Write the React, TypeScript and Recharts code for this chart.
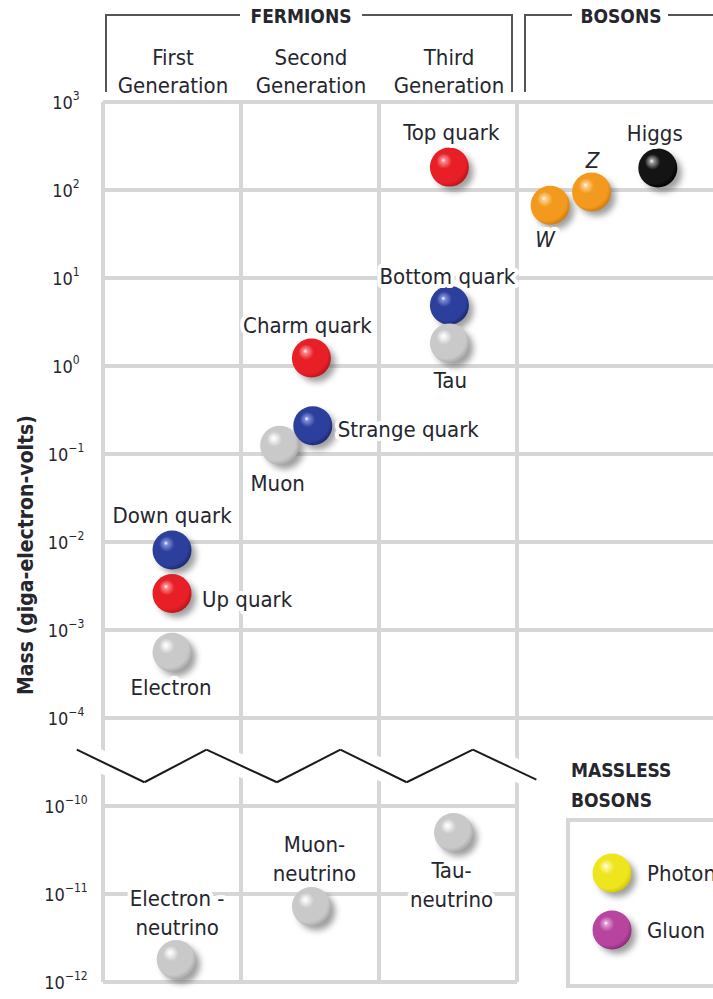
import React from 'react';
import { ComposedChart, Scatter, XAxis, YAxis, ReferenceLine } from 'recharts';

// masses in GeV (log scale)
const particleNames = [
  'Electron', 'Up quark', 'Down quark', 'Electron -\nneutrino',
  'Muon', 'Strange quark', 'Charm quark', 'Muon-\nneutrino',
  'Bottom quark', 'Tau', 'Top quark', 'Tau-\nneutrino',
  'W', 'Z', 'Higgs',
];
const particleMass = [
  0.00056, 0.0026, 0.0081, 1.8e-12,
  0.126, 0.21, 1.23, 7.2e-12,
  4.9, 1.82, 182, 5e-11,
  67, 95, 178,
];
// horizontal place: generation column (0..3) plus where the ball sits in it
const particleColumn = [
  0.5, 0.5, 0.5, 0.53,
  1.28, 1.52, 1.51, 1.51,
  2.51, 2.51, 2.51, 2.54,
  3.24, 3.54, 4.02,
];
const particleKind = [
  'lepton', 'up', 'down', 'lepton',
  'lepton', 'down', 'up', 'lepton',
  'down', 'lepton', 'up', 'lepton',
  'wz', 'wz', 'higgs',
];

const masslessNames = ['Photon', 'Gluon'];
const masslessKind = ['photon', 'gluon'];

const tickExponents = [3, 2, 1, 0, -1, -2, -3, -4, -10, -11, -12];
const generationTitles = [['First', 'Generation'], ['Second', 'Generation'], ['Third', 'Generation']];

// axis break: decades between 1e-4 and 1e-10 are cut to one step
const BREAK_TOP = -4;
const BREAK_BOTTOM = -10;
const expToAxis = (e: number) => (e >= BREAK_TOP ? e : e - BREAK_BOTTOM + BREAK_TOP - 1);
const massToAxis = (m: number) => expToAxis(Math.log10(m));

const X_MAX = 4.42;
const tickPositions = tickExponents.map(expToAxis);

// zigzag break marker, in axis units
const breakZigzag = [
  { x: -0.19, y: -4.36 }, { x: 0.3, y: -4.73 }, { x: 0.75, y: -4.36 }, { x: 1.26, y: -4.73 },
  { x: 1.72, y: -4.36 }, { x: 2.2, y: -4.73 }, { x: 2.68, y: -4.36 }, { x: 3.14, y: -4.7 },
];

const particles = particleNames.map((name, i) => ({
  name,
  x: particleColumn[i],
  y: massToAxis(particleMass[i]),
  kind: particleKind[i],
}));

const FONT = "'DejaVu Sans Condensed', 'DejaVu Sans', sans-serif";
const TEXT = '#26262e';
const GRID = '#d6d6d6';

const ballColors: Record<string, [string, string, string]> = {
  up: ['#f7888b', '#e91f27', '#b9141b'],
  down: ['#7c8ed6', '#2d3f9d', '#1c2a6e'],
  lepton: ['#f4f4f4', '#c9c9c9', '#a9a9a9'],
  wz: ['#fbd08a', '#f39a1e', '#d07a0e'],
  higgs: ['#9a9a9a', '#141414', '#000000'],
  photon: ['#fbf69a', '#efe51d', '#cfc50a'],
  gluon: ['#e29ad2', '#b7449f', '#8a2c77'],
};

const labelPlace: Record<string, { dx: number; dy: number; anchor?: string; italic?: boolean }> = {
  'Electron': { dx: -1, dy: 35 },
  'Up quark': { dx: 30, dy: 6, anchor: 'start' },
  'Down quark': { dx: 0, dy: -35 },
  'Electron -\nneutrino': { dx: 1, dy: -62 },
  'Muon': { dx: -2, dy: 38 },
  'Strange quark': { dx: 25, dy: 3, anchor: 'start' },
  'Charm quark': { dx: -4, dy: -33 },
  'Muon-\nneutrino': { dx: 3, dy: -63 },
  'Bottom quark': { dx: -2, dy: -29 },
  'Tau': { dx: 1, dy: 37 },
  'Top quark': { dx: 2, dy: -35 },
  'Tau-\nneutrino': { dx: -2, dy: 38 },
  'W': { dx: -5, dy: 34, italic: true },
  'Z': { dx: 1, dy: -32, italic: true },
  'Higgs': { dx: -3, dy: -35 },
};

const Ball = ({ cx, cy, kind }: { cx: number; cy: number; kind: string }) => (
  <g>
    <circle cx={cx + 5} cy={cy + 5} r={19} fill="#505050" opacity={0.55} filter="url(#ballBlur)" />
    <circle cx={cx} cy={cy} r={19.5} fill={`url(#ball-${kind})`} />
  </g>
);

const ParticleShape = (props: any) => {
  const { cx, cy, payload } = props;
  const place = labelPlace[payload.name] || { dx: 0, dy: -35 };
  const lines = payload.name.split('\n');
  const tx = cx + place.dx;
  return (
    <g>
      <Ball cx={cx} cy={cy} kind={payload.kind} />
      <text
        x={tx}
        y={cy + place.dy}
        textAnchor={place.anchor || 'middle'}
        dominantBaseline="central"
        fontFamily={FONT}
        fontSize={22}
        fontStyle={place.italic ? 'italic' : 'normal'}
        fill={TEXT}
        stroke="#fff"
        strokeWidth={8}
        strokeLinejoin="round"
        paintOrder="stroke"
      >
        {lines.map((ln: string, i: number) => (
          <tspan key={i} x={tx} dy={i === 0 ? 0 : 29}>{ln}</tspan>
        ))}
      </text>
    </g>
  );
};

const MassTick = (props: any) => {
  const { y, payload } = props;
  const idx = tickPositions.indexOf(payload.value);
  const exp = tickExponents[idx];
  const expText = exp < 0 ? `\u2212${-exp}` : `${exp}`;
  return (
    <text x={66} y={y + 7} textAnchor="middle" fontFamily={FONT} fontSize={18} fill={TEXT}>
      10
      <tspan dy={-9} fontSize={12}>{expText}</tspan>
    </text>
  );
};

const colCenter = (i: number) => 103 + (i + 0.5) * 138;

export default function App() {
  return (
    <div style={{ position: 'absolute', left: 0, top: 0, width: 713, height: 999, background: '#fff', overflow: 'hidden' }}>
      <svg width={0} height={0} style={{ position: 'absolute' }}>
        <defs>
          <filter id="ballBlur" x="-50%" y="-50%" width="200%" height="200%">
            <feGaussianBlur stdDeviation={3} />
          </filter>
          {Object.keys(ballColors).map((k) => (
            <radialGradient key={k} id={`ball-${k}`} cx="42%" cy="40%" r="62%" fx="34%" fy="32%">
              <stop offset="0%" stopColor="#ffffff" />
              <stop offset="9%" stopColor={ballColors[k][0]} />
              <stop offset="32%" stopColor={ballColors[k][1]} />
              <stop offset="82%" stopColor={ballColors[k][1]} />
              <stop offset="100%" stopColor={ballColors[k][2]} />
            </radialGradient>
          ))}
        </defs>
      </svg>

      <ComposedChart width={713} height={999} margin={{ top: 102, right: 0, bottom: 17, left: 0 }}>
        <XAxis type="number" dataKey="x" domain={[0, X_MAX]} hide />
        <YAxis
          type="number"
          dataKey="y"
          domain={[-7, 3]}
          ticks={tickPositions}
          interval={0}
          width={103}
          axisLine={false}
          tickLine={false}
          tick={(p: any) => <MassTick {...p} />}
        />
        {tickPositions.map((t) => (
          <ReferenceLine
            key={`h${t}`}
            segment={[{ x: 0, y: t }, { x: t >= BREAK_TOP ? X_MAX : 3, y: t }]}
            stroke={GRID}
            strokeWidth={4}
            ifOverflow="visible"
          />
        ))}
        {[0, 1, 2, 3].map((c) => (
          <ReferenceLine
            key={`v${c}`}
            segment={[{ x: c, y: -7 }, { x: c, y: 3 }]}
            stroke={GRID}
            strokeWidth={4}
            ifOverflow="visible"
          />
        ))}
        {breakZigzag.slice(1).map((p, i) => (
          <ReferenceLine
            key={`bw${i}`}
            segment={[breakZigzag[i], p]}
            stroke="#fff"
            strokeWidth={22}
            ifOverflow="visible"
          />
        ))}
        {breakZigzag.slice(1).map((p, i) => (
          <ReferenceLine
            key={`bk${i}`}
            segment={[breakZigzag[i], p]}
            stroke="#1a1a1a"
            strokeWidth={2}
            ifOverflow="visible"
          />
        ))}
        <Scatter data={particles} shape={ParticleShape} isAnimationActive={false} />
      </ComposedChart>

      <svg width={713} height={999} style={{ position: 'absolute', left: 0, top: 0, pointerEvents: 'none' }}>
        {/* FERMIONS bracket */}
        <g stroke="#555" strokeWidth={2} fill="none">
          <polyline points="106,92 106,15 240,15" />
          <polyline points="362,15 512,15 512,92" />
          <polyline points="525,92 525,15 572,15" />
          <line x1={668} y1={15} x2={713} y2={15} />
        </g>
        <text x={301} y={23} textAnchor="middle" fontFamily={FONT} fontWeight="bold" fontSize={19} fill={TEXT}>FERMIONS</text>
        <text x={621} y={23} textAnchor="middle" fontFamily={FONT} fontWeight="bold" fontSize={19} fill={TEXT}>BOSONS</text>
        {generationTitles.map((t, i) => (
          <text key={i} textAnchor="middle" fontFamily={FONT} fontSize={22} fill={TEXT}>
            <tspan x={colCenter(i) + 1} y={65}>{t[0]}</tspan>
            <tspan x={colCenter(i) + 1} y={93}>{t[1]}</tspan>
          </text>
        ))}

        {/* y axis title */}
        <text
          transform="translate(33,555) rotate(-90)"
          textAnchor="middle"
          fontFamily={FONT}
          fontWeight="bold"
          fontSize={21}
          fill={TEXT}
        >
          Mass (giga-electron-volts)
        </text>

        {/* massless bosons */}
        <text fontFamily={FONT} fontWeight="bold" fontSize={19} fill={TEXT}>
          <tspan x={571} y={777}>MASSLESS</tspan>
          <tspan x={571} y={807}>BOSONS</tspan>
        </text>
        <rect x={568} y={820} width={170} height={166} fill="none" stroke={GRID} strokeWidth={4} />
        {masslessNames.map((n, i) => (
          <g key={n}>
            <Ball cx={612} cy={873 + i * 57} kind={masslessKind[i]} />
            <text x={647} y={873 + i * 57} dominantBaseline="central" fontFamily={FONT} fontSize={22} fill={TEXT}>{n}</text>
          </g>
        ))}
      </svg>
    </div>
  );
}
